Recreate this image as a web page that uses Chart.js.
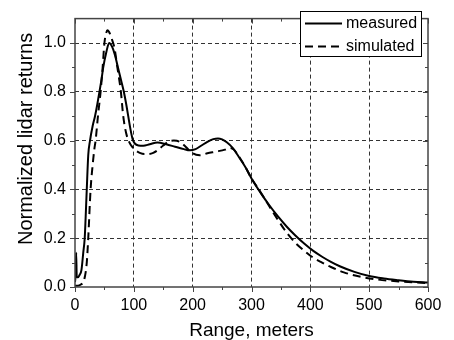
<!DOCTYPE html>
<html>
<head>
<meta charset="utf-8">
<script src="https://cdn.jsdelivr.net/npm/chart.js@4/dist/chart.umd.min.js"></script>
<style>
  html, body { margin: 0; padding: 0; background: #fff; }
  canvas { display: block; }
</style>
</head>
<body>
<canvas id="c" width="454" height="340"></canvas>
<script>
// ---- data ----
const measuredRange = [0, 1, 2, 3, 5, 8, 11, 14, 16.5, 18, 20, 22.5, 25.5, 30, 34, 38, 41.5, 45, 48, 53, 58, 63, 68, 73, 78, 83, 87, 90.5, 94, 98, 102, 108, 116, 127, 140, 155, 170, 185, 195, 205, 215, 225, 235, 243, 250, 258, 268, 278, 290, 300, 315, 330, 345, 360, 375, 390, 405, 420, 435, 450, 475, 500, 525, 550, 575, 600];
const measuredValues = [0.02, 0.05, 0.14, 0.04, 0.04, 0.05, 0.07, 0.14, 0.2, 0.28, 0.4, 0.54, 0.6, 0.66, 0.7, 0.75, 0.8, 0.85, 0.9, 0.96, 1.0, 0.985, 0.95, 0.9, 0.85, 0.8, 0.75, 0.7, 0.65, 0.605, 0.587, 0.58, 0.579, 0.585, 0.592, 0.585, 0.575, 0.565, 0.56, 0.565, 0.58, 0.595, 0.606, 0.609, 0.605, 0.593, 0.57, 0.535, 0.49, 0.445, 0.388, 0.336, 0.289, 0.247, 0.21, 0.177, 0.148, 0.124, 0.103, 0.085, 0.062, 0.045, 0.035, 0.028, 0.022, 0.018];

const simulatedRange = [0, 5, 10, 14, 17, 20, 22.5, 26.5, 30, 33, 35, 39, 43.5, 47, 50, 53, 55, 58, 62, 67, 72, 78, 82, 87, 92, 97, 103, 110, 118, 125, 133, 140, 150, 160, 168, 178, 188, 200, 212, 225, 240, 255, 263, 270, 280, 290, 300, 315, 330, 345, 360, 375, 390, 405, 420, 435, 457, 486, 513, 550, 600];
const simulatedValues = [0.005, 0.005, 0.01, 0.02, 0.045, 0.10, 0.2, 0.4, 0.5, 0.567, 0.6, 0.7, 0.8, 0.9, 1.0, 1.04, 1.052, 1.045, 1.02, 0.98, 0.9, 0.8, 0.7, 0.63, 0.595, 0.575, 0.56, 0.55, 0.545, 0.545, 0.55, 0.56, 0.58, 0.597, 0.60, 0.595, 0.575, 0.548, 0.54, 0.548, 0.555, 0.563, 0.57, 0.563, 0.53, 0.49, 0.445, 0.39, 0.332, 0.275, 0.222, 0.18, 0.148, 0.12, 0.1, 0.082, 0.06, 0.042, 0.031, 0.023, 0.016];

const seriesLabels = ['measured', 'simulated'];
const xTickValues = [0, 100, 200, 300, 400, 500, 600];
const xMinorTicks = [50, 150, 250, 350, 450, 550];
const yTickValues = [0.0, 0.2, 0.4, 0.6, 0.8, 1.0];
const yMinorTicks = [0.1, 0.3, 0.5, 0.7, 0.9];
const xTitle = 'Range, meters';
const yTitle = 'Normalized lidar returns';

const FONT = 'Liberation Sans, Arial, Helvetica, sans-serif';

const toPoints = (xs, ys) => xs.map((x, i) => ({ x: x, y: ys[i] }));

const framePlugin = {
  id: 'frameTicks',
  afterDraw(chart) {
    const { ctx, chartArea: a, scales: { x, y } } = chart;
    ctx.save();
    ctx.strokeStyle = '#444';
    ctx.lineWidth = 1.5;
    ctx.setLineDash([]);
    ctx.strokeRect(a.left, a.top, a.right - a.left, a.bottom - a.top);
    ctx.lineWidth = 1;
    ctx.beginPath();
    const xt = (v, len) => {
      const px = Math.round(x.getPixelForValue(v)) + 0.5;
      ctx.moveTo(px, a.bottom); ctx.lineTo(px, a.bottom + len);
      ctx.moveTo(px, a.top); ctx.lineTo(px, a.top + len);
    };
    const yt = (v, len) => {
      const py = Math.round(y.getPixelForValue(v)) + 0.5;
      ctx.moveTo(a.left, py); ctx.lineTo(a.left - len, py);
      ctx.moveTo(a.right, py); ctx.lineTo(a.right - len, py);
    };
    xTickValues.forEach(v => xt(v, 5));
    xMinorTicks.forEach(v => xt(v, 3));
    yTickValues.forEach(v => yt(v, 5));
    yMinorTicks.forEach(v => yt(v, 3));
    ctx.stroke();

    // legend box
    const bx = 300.5, by = 11.5, bw = 121, bh = 45;
    ctx.fillStyle = '#fff';
    ctx.fillRect(bx, by, bw, bh);
    ctx.strokeStyle = '#000';
    ctx.lineWidth = 1;
    ctx.strokeRect(bx, by, bw, bh);
    chart.data.datasets.forEach((ds, i) => {
      const ly = 23.5 + i * 23;
      ctx.beginPath();
      ctx.lineWidth = 2;
      ctx.strokeStyle = '#000';
      ctx.setLineDash(ds.borderDash || []);
      ctx.moveTo(305, ly);
      ctx.lineTo(342, ly);
      ctx.stroke();
      ctx.setLineDash([]);
      ctx.fillStyle = '#000';
      ctx.font = '16px ' + FONT;
      ctx.textBaseline = 'middle';
      ctx.textAlign = 'left';
      ctx.fillText(ds.label, 346, ly);
    });
    ctx.restore();
  }
};

new Chart(document.getElementById('c'), {
  type: 'line',
  data: {
    datasets: [
      {
        label: seriesLabels[0],
        data: toPoints(measuredRange, measuredValues),
        borderColor: '#000',
        borderWidth: 2,
        pointRadius: 0,
        fill: false,
        cubicInterpolationMode: 'monotone'
      },
      {
        label: seriesLabels[1],
        data: toPoints(simulatedRange, simulatedValues),
        borderColor: '#000',
        borderWidth: 2,
        borderDash: [8, 5],
        pointRadius: 0,
        fill: false,
        cubicInterpolationMode: 'monotone'
      }
    ]
  },
  options: {
    responsive: false,
    devicePixelRatio: 1,
    animation: false,
    layout: { padding: { top: 2, right: 26, left: 0, bottom: 0 } },
    plugins: { legend: { display: false }, tooltip: { enabled: false } },
    scales: {
      x: {
        type: 'linear',
        min: 0, max: 600,
        afterBuildTicks: s => { s.ticks = xTickValues.map(v => ({ value: v })); },
        afterFit: s => { s.height = 53; },
        ticks: {
          color: '#000',
          font: { family: FONT, size: 16 },
          padding: 9,
          maxRotation: 0,
          callback: v => String(v)
        },
        grid: {
          drawTicks: false,
          lineWidth: 1,
          color: c => (c.tick && (c.tick.value === 0 || c.tick.value === 600)) ? 'rgba(0,0,0,0)' : '#333'
        },
        border: { display: false, dash: [4, 3] },
        title: {
          display: true,
          text: xTitle,
          color: '#000',
          font: { family: FONT, size: 19, lineHeight: 1.0 },
          padding: { top: 0, bottom: 0 }
        }
      },
      y: {
        type: 'linear',
        min: 0, max: 1.1,
        afterBuildTicks: s => { s.ticks = yTickValues.map(v => ({ value: v })); },
        afterFit: s => { s.width = 75; },
        ticks: {
          color: '#000',
          font: { family: FONT, size: 16 },
          padding: 9,
          callback: v => Number(v).toFixed(1)
        },
        grid: {
          drawTicks: false,
          lineWidth: 1,
          color: c => (c.tick && c.tick.value === 0) ? 'rgba(0,0,0,0)' : '#333'
        },
        border: { display: false, dash: [4, 3] },
        title: {
          display: true,
          text: '     ' + yTitle,
          color: '#000',
          font: { family: FONT, size: 20, lineHeight: 1.2 },
          padding: { top: 14, bottom: 0 }
        }
      }
    }
  },
  plugins: [framePlugin]
});
</script>
</body>
</html>
